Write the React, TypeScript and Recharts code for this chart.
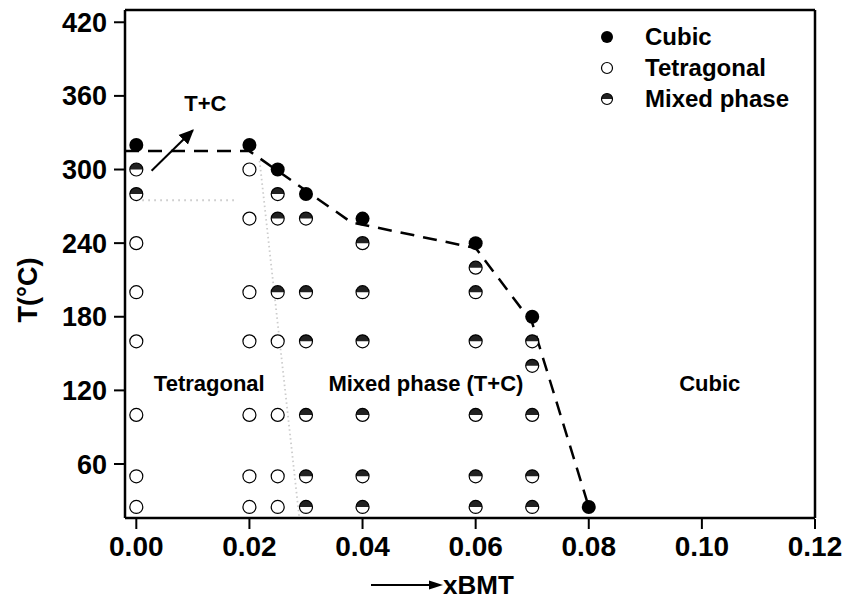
import React from 'react';
import { ComposedChart, XAxis, YAxis, Scatter, Line, Legend } from 'recharts';

const FONT = '"Liberation Sans", Arial, sans-serif';

// axis ticks
const xTicks = [0, 0.02, 0.04, 0.06, 0.08, 0.1, 0.12];
const xMinorTicks = [0.01, 0.03, 0.05, 0.07, 0.09, 0.11];
const yTicks = [60, 120, 180, 240, 300, 360, 420];
const yMinorTicks = [30, 90, 150, 210, 270, 330, 390];
// the top axis has its own (unlabelled) spacing
const topTicks = [15, 167, 317, 467, 618];
const topMinorTicks = [91, 242, 392, 543];

const xDomain = [-0.002, 0.12];
const yDomain = [16, 430];

// measured phases
const cubic = [
  { x: 0, t: 320 },
  { x: 0.02, t: 320 },
  { x: 0.025, t: 300 },
  { x: 0.03, t: 280 },
  { x: 0.04, t: 260 },
  { x: 0.06, t: 240 },
  { x: 0.07, t: 180 },
  { x: 0.08, t: 25 },
];

const tetragonal = [
  { x: 0, t: 240 }, { x: 0, t: 200 }, { x: 0, t: 160 }, { x: 0, t: 100 }, { x: 0, t: 50 }, { x: 0, t: 25 },
  { x: 0.02, t: 300 }, { x: 0.02, t: 260 }, { x: 0.02, t: 200 }, { x: 0.02, t: 160 },
  { x: 0.02, t: 100 }, { x: 0.02, t: 50 }, { x: 0.02, t: 25 },
  { x: 0.025, t: 160 }, { x: 0.025, t: 100 }, { x: 0.025, t: 50 }, { x: 0.025, t: 25 },
];

const mixed = [
  { x: 0, t: 300 }, { x: 0, t: 280 },
  { x: 0.025, t: 280 }, { x: 0.025, t: 260 }, { x: 0.025, t: 200 },
  { x: 0.03, t: 260 }, { x: 0.03, t: 200 }, { x: 0.03, t: 160 }, { x: 0.03, t: 100 }, { x: 0.03, t: 50 }, { x: 0.03, t: 25 },
  { x: 0.04, t: 240 }, { x: 0.04, t: 200 }, { x: 0.04, t: 160 }, { x: 0.04, t: 100 }, { x: 0.04, t: 50 }, { x: 0.04, t: 25 },
  { x: 0.06, t: 220 }, { x: 0.06, t: 200 }, { x: 0.06, t: 160 }, { x: 0.06, t: 100 }, { x: 0.06, t: 50 }, { x: 0.06, t: 25 },
  { x: 0.07, t: 160 }, { x: 0.07, t: 140 }, { x: 0.07, t: 100 }, { x: 0.07, t: 50 }, { x: 0.07, t: 25 },
];

// phase boundaries
const boundary = [
  { x: -0.002, t: 315 },
  { x: 0.02, t: 315 },
  { x: 0.038, t: 257 },
  { x: 0.06, t: 236 },
  { x: 0.07, t: 175 },
  { x: 0.08, t: 25 },
];
const dottedFlat = [{ x: 0, t: 275 }, { x: 0.018, t: 275 }];
const dottedSlope = [{ x: 0.0218, t: 307 }, { x: 0.0288, t: 17 }];
const arrow = [{ x: 0.0027, t: 299 }, { x: 0.01, t: 332 }];

const annotations = [
  { x: 0.0122, t: 354, text: 'T+C' },
  { x: 0.0129, t: 126, text: 'Tetragonal' },
  { x: 0.0512, t: 126, text: 'Mixed phase (T+C)' },
  { x: 0.1014, t: 126, text: 'Cubic' },
];

const legendOrder = ['Cubic', 'Tetragonal', 'Mixed phase'];

const Filled = (p: any) => <circle cx={p.cx} cy={p.cy} r={p.r ?? 7} fill="#000" />;
const Open = (p: any) => (
  <circle cx={p.cx} cy={p.cy} r={p.r ?? 6.5} fill="#fff" stroke="#000" strokeWidth={1.2} />
);
const Half = (p: any) => {
  const r = p.r ?? 6.5;
  const { cx, cy } = p;
  return (
    <g>
      <circle cx={cx} cy={cy} r={r} fill="#fff" />
      <path d={`M${cx - r},${cy} A${r},${r} 0 0 1 ${cx + r},${cy} Z`} fill="#222" />
      <circle cx={cx} cy={cy} r={r} fill="none" stroke="#000" strokeWidth={1.2} />
    </g>
  );
};

const AnnotationText = (p: any) => (
  <text x={p.cx} y={p.cy} dy="0.35em" textAnchor="middle" fill="#000"
    fontSize={22} fontWeight="bold" fontFamily={FONT}>
    {p.payload.text}
  </text>
);

const icons: Record<string, any> = {
  Cubic: <Filled cx={10} cy={10} r={6} />,
  Tetragonal: <Open cx={10} cy={10} r={5.5} />,
  'Mixed phase': <Half cx={10} cy={10} r={5.5} />,
};

const renderLegend = ({ payload }: any) => {
  const items = (payload || [])
    .filter((e: any) => icons[e.value])
    .sort((a: any, b: any) => legendOrder.indexOf(a.value) - legendOrder.indexOf(b.value));
  return (
    <div style={{ fontFamily: FONT, fontWeight: 'bold', fontSize: 24, color: '#000' }}>
      {items.map((e: any) => (
        <div key={e.value} style={{ display: 'flex', alignItems: 'center', height: 31 }}>
          <svg width={20} height={20}>{icons[e.value]}</svg>
          <span style={{ marginLeft: 28 }}>{e.value}</span>
        </div>
      ))}
    </div>
  );
};

const XTitle = ({ viewBox }: any) => {
  const y = viewBox.y + 75;
  const x0 = viewBox.x + 246;
  return (
    <g>
      <line x1={x0} y1={y - 9} x2={x0 + 60} y2={y - 9} stroke="#000" strokeWidth={2} />
      <path d={`M${x0 + 72},${y - 9} L${x0 + 58},${y - 13.5} L${x0 + 58},${y - 4.5} Z`} fill="#000" />
      <text x={x0 + 72} y={y} fill="#000" fontSize={26} fontWeight="bold" fontFamily={FONT}>xBMT</text>
    </g>
  );
};

const YTitle = ({ viewBox }: any) => {
  const x = viewBox.x - 17;
  const y = 290;
  return (
    <text x={x} y={y} transform={`rotate(-90 ${x} ${y})`} textAnchor="middle" fill="#000"
      fontSize={27} fontWeight="bold" fontFamily={FONT}>T(°C)</text>
  );
};

const axisLine = { stroke: '#000', strokeWidth: 2.5 };
const tickLine = { stroke: '#000', strokeWidth: 2 };
const xTickFont = { fill: '#000', fontSize: 28, fontWeight: 'bold', fontFamily: FONT };
const yTickFont = { fill: '#000', fontSize: 27, fontWeight: 'bold', fontFamily: FONT };

export default function App() {
  return (
    <div style={{ position: 'absolute', left: 0, top: 0, background: '#fff' }}>
      <svg width={0} height={0} style={{ position: 'absolute' }}>
        <defs>
          <marker id="arrowHead" viewBox="0 0 10 10" refX="9" refY="5" markerWidth="7.5" markerHeight="7.5" orient="auto">
            <path d="M0,0.5 L10,5 L0,9.5 Z" fill="#000" />
          </marker>
        </defs>
      </svg>
      <ComposedChart width={848} height={601} margin={{ top: 10, right: 33, bottom: 12, left: 54 }}>
        {/* labelled axes; the thin minor-tick axes ("a_" ids) sit on the frame and carry its lines */}
        <XAxis xAxisId="x" type="number" dataKey="x" domain={xDomain} allowDataOverflow ticks={xTicks}
          interval={0} tickFormatter={(v: number) => v.toFixed(2)} tick={xTickFont} tickSize={10} tickMargin={7}
          axisLine={false} tickLine={tickLine} height={70} label={(p: any) => <XTitle {...p} />} />
        <XAxis xAxisId="a_xm" type="number" dataKey="x" domain={xDomain} allowDataOverflow ticks={xMinorTicks}
          interval={0} tick={false} tickSize={5} axisLine={axisLine} tickLine={tickLine} height={1} />
        <XAxis xAxisId="t" orientation="top" mirror type="number" domain={[0, 690]} allowDataOverflow
          ticks={topTicks} interval={0} tick={false} tickSize={10} axisLine={false} tickLine={tickLine} height={1} />
        <XAxis xAxisId="a_tm" orientation="top" mirror type="number" domain={[0, 690]} allowDataOverflow
          ticks={topMinorTicks} interval={0} tick={false} tickSize={5} axisLine={axisLine} tickLine={tickLine} height={1} />

        <YAxis yAxisId="y" type="number" dataKey="t" domain={yDomain} allowDataOverflow ticks={yTicks}
          interval={0} tick={yTickFont} tickSize={10} tickMargin={7} axisLine={false} tickLine={tickLine}
          width={70} label={(p: any) => <YTitle {...p} />} />
        <YAxis yAxisId="a_ym" type="number" dataKey="t" domain={yDomain} allowDataOverflow ticks={yMinorTicks}
          interval={0} tick={false} tickSize={5} axisLine={axisLine} tickLine={tickLine} width={1} />
        <YAxis yAxisId="r" orientation="right" mirror type="number" domain={yDomain} allowDataOverflow
          ticks={yTicks} interval={0} tick={false} tickSize={10} axisLine={false} tickLine={tickLine} width={1} />
        <YAxis yAxisId="a_rm" orientation="right" mirror type="number" domain={yDomain} allowDataOverflow
          ticks={yMinorTicks} interval={0} tick={false} tickSize={5} axisLine={axisLine} tickLine={tickLine} width={1} />

        <Line xAxisId="x" yAxisId="y" data={dottedFlat} dataKey="t" type="linear" stroke="#c4c4c4"
          strokeWidth={2} strokeDasharray="1.5 4.5" dot={false} activeDot={false} legendType="none" isAnimationActive={false} />
        <Line xAxisId="x" yAxisId="y" data={dottedSlope} dataKey="t" type="linear" stroke="#cccccc"
          strokeWidth={1.8} strokeDasharray="1.5 3" dot={false} activeDot={false} legendType="none" isAnimationActive={false} />
        <Line xAxisId="x" yAxisId="y" data={boundary} dataKey="t" type="linear" stroke="#000"
          strokeWidth={2.5} strokeDasharray="14 9" dot={false} activeDot={false} legendType="none" isAnimationActive={false} />
        <Line xAxisId="x" yAxisId="y" data={arrow} dataKey="t" type="linear" stroke="#000"
          strokeWidth={2} markerEnd="url(#arrowHead)" dot={false} activeDot={false} legendType="none" isAnimationActive={false} />

        <Scatter name="Cubic" xAxisId="x" yAxisId="y" data={cubic} dataKey="t" shape={Filled} isAnimationActive={false} />
        <Scatter name="Tetragonal" xAxisId="x" yAxisId="y" data={tetragonal} dataKey="t" shape={Open} isAnimationActive={false} />
        <Scatter name="Mixed phase" xAxisId="x" yAxisId="y" data={mixed} dataKey="t" shape={Half} isAnimationActive={false} />
        <Scatter name="labels" xAxisId="x" yAxisId="y" data={annotations} dataKey="t" shape={AnnotationText}
          legendType="none" isAnimationActive={false} />

        <Legend layout="horizontal" verticalAlign="middle" align="center" content={renderLegend}
          wrapperStyle={{ left: 597, top: 21, width: 240 }} />
      </ComposedChart>
    </div>
  );
}
